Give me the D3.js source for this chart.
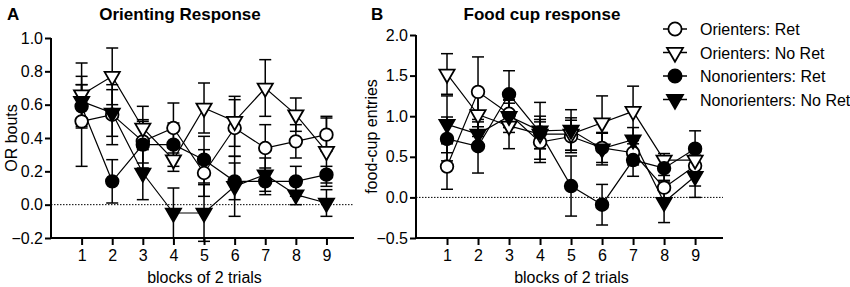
<!DOCTYPE html>
<html>
<head>
<meta charset="utf-8">
<script src="https://cdn.jsdelivr.net/npm/d3@7"></script>
<style>
  body { margin: 0; background: #fff; }
  svg text { font-family: "Liberation Sans", Arial, sans-serif; fill: #000; }
</style>
</head>
<body>
<div id="chart"></div>
<script>
// blocks of 2 trials
const blocks = [1, 2, 3, 4, 5, 6, 7, 8, 9];
const seriesNames = ["Orienters: Ret", "Orienters: No Ret", "Nonorienters: Ret", "Nonorienters: No Ret"];

// Panel A - orienting response (OR bouts), mean and SEM
const orOrRet = [0.50, 0.54, 0.38, 0.46, 0.19, 0.46, 0.34, 0.38, 0.42];
const orOrRetErr = [0.27, 0.18, 0.13, 0.15, 0.14, 0.17, 0.14, 0.10, 0.10];
const orOrNoRet = [0.66, 0.77, 0.46, 0.27, 0.58, 0.50, 0.70, 0.54, 0.32];
const orOrNoRetErr = [0.19, 0.17, 0.13, 0.07, 0.15, 0.15, 0.17, 0.10, 0.21];
const orNonRet = [0.59, 0.14, 0.36, 0.36, 0.27, 0.14, 0.14, 0.14, 0.18];
const orNonRetErr = [0.13, 0.13, 0.14, 0.13, 0.14, 0.11, 0.08, 0.09, 0.05];
const orNonNoRet = [0.62, 0.55, 0.19, -0.05, -0.05, 0.11, 0.18, 0.06, 0.01];
const orNonNoRetErr = [0.10, 0.14, 0.16, 0.15, 0.17, 0.18, 0.10, 0.06, 0.08];

// Panel B - food cup entries, mean and SEM
const fcOrRet = [0.38, 1.30, 1.03, 0.68, 0.75, 0.61, 0.55, 0.12, 0.39];
const fcOrRetErr = [0.28, 0.43, 0.17, 0.25, 0.20, 0.18, 0.15, 0.15, 0.25];
const fcOrNoRet = [1.52, 1.02, 0.88, 0.78, 0.78, 0.92, 1.06, 0.46, 0.46];
const fcOrNoRetErr = [0.25, 0.27, 0.28, 0.18, 0.20, 0.33, 0.31, 0.08, 0.15];
const fcNonRet = [0.72, 0.63, 1.27, 0.80, 0.14, -0.09, 0.46, 0.36, 0.60];
const fcNonRetErr = [0.27, 0.33, 0.29, 0.20, 0.37, 0.25, 0.20, 0.15, 0.22];
const fcNonNoRet = [0.90, 0.78, 1.00, 0.82, 0.83, 0.60, 0.71, -0.06, 0.26];
const fcNonNoRetErr = [0.35, 0.15, 0.20, 0.35, 0.25, 0.20, 0.15, 0.25, 0.26];

const orTicks = [-0.2, 0.0, 0.2, 0.4, 0.6, 0.8, 1.0];
const fcTicks = [-0.5, 0.0, 0.5, 1.0, 1.5, 2.0];

const width = 850;
const height = 287;

const svg = d3.select("#chart")
  .append("svg")
  .attr("width", width)
  .attr("height", height);

// marker styles: open/filled, circle/triangle-down
const markers = [
  { type: d3.symbolCircle, size: 125, fill: "#fff", rot: 0 },
  { type: d3.symbolTriangle, size: 100, fill: "#fff", rot: 180 },
  { type: d3.symbolCircle, size: 125, fill: "#000", rot: 0 },
  { type: d3.symbolTriangle, size: 100, fill: "#000", rot: 180 }
];

function drawPanel(opts) {
  const x = d3.scaleLinear().domain([0, 9.9]).range([opts.left, opts.right]);
  const y = d3.scaleLinear().domain(opts.domain).range([238, opts.top]);
  const g = svg.append("g");

  // dotted zero line
  g.append("line")
    .attr("x1", x(0)).attr("x2", x(9.9))
    .attr("y1", y(0)).attr("y2", y(0))
    .attr("stroke", "#000").attr("stroke-width", 1)
    .attr("stroke-dasharray", "1.5,1.5");

  // axes
  const xAxis = g.append("g")
    .attr("transform", "translate(0," + y(opts.domain[0]) + ")")
    .call(d3.axisBottom(x).tickValues(blocks).tickSize(7).tickPadding(5).tickFormat(d3.format("d")));
  const yAxis = g.append("g")
    .attr("transform", "translate(" + x(0) + ",0)")
    .call(d3.axisLeft(y).tickValues(opts.ticks).tickSize(6).tickPadding(2).tickFormat(d3.format(".1f")));
  [xAxis, yAxis].forEach(a => {
    a.select(".domain").attr("stroke-width", 2).attr("stroke", "#000");
    a.selectAll(".tick line").attr("stroke-width", 2).attr("stroke", "#000");
    a.selectAll("text").attr("font-size", 16).attr("fill", "#000")
      .style("font-family", "'Liberation Sans', Arial, sans-serif");
  });
  xAxis.select(".domain").attr("d", "M" + x(0) + ",0H" + x(9.9));
  yAxis.select(".domain").attr("d", "M0," + y(opts.domain[1]) + "V" + y(opts.domain[0]));

  // series: error bars and connecting lines
  opts.series.forEach((s, i) => {
    const pts = blocks.map((b, j) => ({ b: b, v: s.mean[j], e: s.err[j] }));
    const sg = g.append("g");
    sg.selectAll("line.eb").data(pts).enter().append("line")
      .attr("x1", d => x(d.b)).attr("x2", d => x(d.b))
      .attr("y1", d => y(d.v - d.e)).attr("y2", d => y(d.v + d.e))
      .attr("stroke", "#000").attr("stroke-width", 1.5);
    [-1, 1].forEach(sign => {
      sg.selectAll("line.cap" + sign).data(pts).enter().append("line")
        .attr("x1", d => x(d.b) - 6).attr("x2", d => x(d.b) + 6)
        .attr("y1", d => y(d.v + sign * d.e)).attr("y2", d => y(d.v + sign * d.e))
        .attr("stroke", "#000").attr("stroke-width", 1.5);
    });
    sg.append("path")
      .datum(pts)
      .attr("fill", "none").attr("stroke", "#000").attr("stroke-width", 1.2)
      .attr("d", d3.line().x(d => x(d.b)).y(d => y(d.v)));
  });
  // markers on top
  opts.series.forEach((s, i) => {
    const m = markers[i];
    g.selectAll(null).data(blocks.map((b, j) => ({ b: b, v: s.mean[j] }))).enter()
      .append("path")
      .attr("d", d3.symbol().type(m.type).size(m.size))
      .attr("transform", d => "translate(" + x(d.b) + "," + y(d.v) + ") rotate(" + m.rot + ")")
      .attr("fill", m.fill).attr("stroke", "#000").attr("stroke-width", 1.8);
  });

  // labels
  svg.append("text").attr("x", opts.letterX).attr("y", 20)
    .attr("font-size", 17).attr("font-weight", "bold").text(opts.letter);
  svg.append("text").attr("x", opts.titleX).attr("y", 20)
    .attr("text-anchor", "middle").attr("font-size", 17).attr("font-weight", "bold").text(opts.title);
  svg.append("text").attr("x", (x(0) + x(9.9)) / 2 + 2).attr("y", 283)
    .attr("text-anchor", "middle").attr("font-size", 16).text("blocks of 2 trials");
  svg.append("text")
    .attr("transform", "translate(" + opts.ylabX + "," + y((opts.domain[0] + opts.domain[1]) / 2) + ") rotate(-90)")
    .attr("text-anchor", "middle").attr("font-size", 16).text(opts.ylab);
}

drawPanel({
  left: 51, right: 354, top: 38, domain: [-0.2, 1.0], ticks: orTicks,
  letter: "A", letterX: 7, title: "Orienting Response", titleX: 180,
  ylab: "OR bouts", ylabX: 17,
  series: [
    { mean: orOrRet, err: orOrRetErr },
    { mean: orOrNoRet, err: orOrNoRetErr },
    { mean: orNonRet, err: orNonRetErr },
    { mean: orNonNoRet, err: orNonNoRetErr }
  ]
});

drawPanel({
  left: 416, right: 723, top: 35, domain: [-0.5, 2.0], ticks: fcTicks,
  letter: "B", letterX: 371, title: "Food cup response", titleX: 542,
  ylab: "food-cup entries", ylabX: 377,
  series: [
    { mean: fcOrRet, err: fcOrRetErr },
    { mean: fcOrNoRet, err: fcOrNoRetErr },
    { mean: fcNonRet, err: fcNonRetErr },
    { mean: fcNonNoRet, err: fcNonNoRetErr }
  ]
});

// legend
const legend = svg.append("g");
seriesNames.forEach((name, i) => {
  const yy = 29 + i * 23.5;
  const m = markers[i];
  legend.append("line").attr("x1", 663).attr("x2", 687).attr("y1", yy).attr("y2", yy)
    .attr("stroke", "#000").attr("stroke-width", 1.5);
  legend.append("path")
    .attr("d", d3.symbol().type(m.type).size(m.size * 1.1))
    .attr("transform", "translate(675," + yy + ") rotate(" + m.rot + ")")
    .attr("fill", m.fill).attr("stroke", "#000").attr("stroke-width", 1.8);
  legend.append("text").attr("x", 700).attr("y", yy + 6)
    .attr("font-size", 16).text(name);
});
</script>
</body>
</html>
